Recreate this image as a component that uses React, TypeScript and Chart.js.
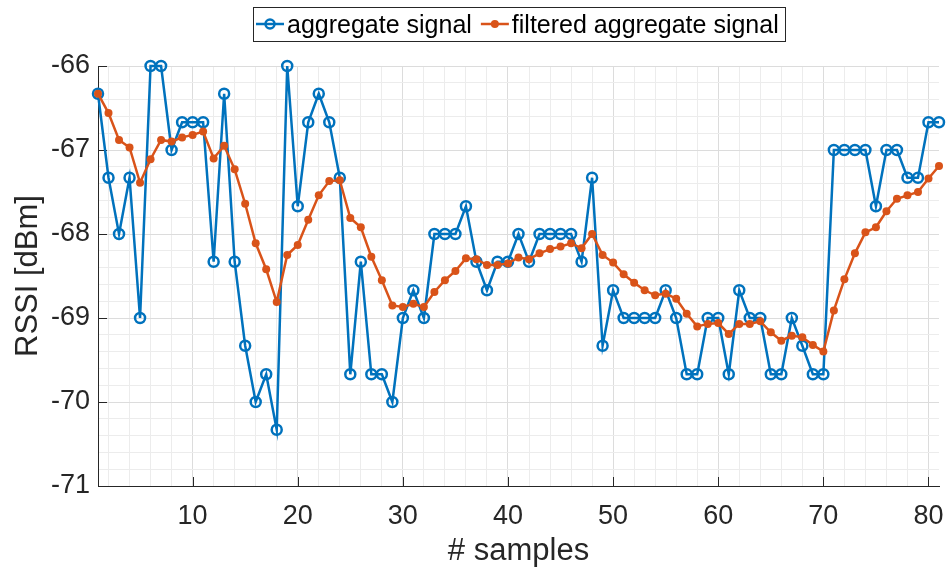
import React, { useEffect, useRef } from 'react';
import { Chart, registerables } from 'chart.js';

Chart.register(...registerables);

const FONT = '"Liberation Sans", Arial, Helvetica, sans-serif';
const BLUE = '#0072BD';
const ORANGE = '#D95319';
const AXIS = '#262626';

// RSSI of the aggregate signal, samples 1..81
const aggregateSignal = [
  -66.33, -67.33, -68, -67.33, -69, -66, -66, -67, -66.67, -66.67,
  -66.67, -68.33, -66.33, -68.33, -69.33, -70, -69.67, -70.33, -66, -67.67,
  -66.67, -66.33, -66.67, -67.33, -69.67, -68.33, -69.67, -69.67, -70, -69,
  -68.67, -69, -68, -68, -68, -67.67, -68.33, -68.67, -68.33, -68.33,
  -68, -68.33, -68, -68, -68, -68, -68.33, -67.33, -69.33, -68.67,
  -69, -69, -69, -69, -68.67, -69, -69.67, -69.67, -69, -69,
  -69.67, -68.67, -69, -69, -69.67, -69.67, -69, -69.33, -69.67, -69.67,
  -67, -67, -67, -67, -67.67, -67, -67, -67.33, -67.33, -66.67, -66.67,
];

// RSSI of the filtered aggregate signal, samples 1..81
const filteredSignal = [
  -66.33, -66.56, -66.88, -66.97, -67.39, -67.11, -66.88, -66.9, -66.85, -66.82,
  -66.78, -67.1, -66.95, -67.23, -67.64, -68.11, -68.42, -68.81, -68.25, -68.13,
  -67.83, -67.54, -67.37, -67.36, -67.81, -67.92, -68.27, -68.55, -68.85, -68.87,
  -68.83, -68.87, -68.69, -68.55, -68.44, -68.29, -68.3, -68.37, -68.37, -68.35,
  -68.28, -68.3, -68.23, -68.18, -68.15, -68.11, -68.17, -68.0, -68.25, -68.34,
  -68.48, -68.58, -68.67, -68.73, -68.71, -68.77, -68.95, -69.1, -69.07, -69.06,
  -69.19, -69.07, -69.07, -69.04, -69.17, -69.27, -69.21, -69.23, -69.32, -69.4,
  -68.91, -68.54, -68.23, -67.98, -67.92, -67.73, -67.58, -67.54, -67.5, -67.34, -67.19,
];

const seriesLabels = ['aggregate signal', 'filtered aggregate signal'];
const xMajorTicks = [10, 20, 30, 40, 50, 60, 70, 80];
const yMajorTicks = [-71, -70, -69, -68, -67, -66];
const xMinorStep = 2;
const yMinorStep = 0.2;
const X_MIN = 1;
const X_MAX = 81;
const Y_MIN = -71;
const Y_MAX = -66;

const isMajorX = (v: number) => xMajorTicks.some((m) => Math.abs(m - v) < 1e-6);
const isMajorY = (v: number) => yMajorTicks.some((m) => Math.abs(m - v) < 1e-6);

const axisDecor = {
  id: 'axisDecor',
  beforeDatasetsDraw(chart: any) {
    const { ctx, chartArea, scales } = chart;
    const x = scales.x;
    const y = scales.y;
    ctx.save();
    ctx.strokeStyle = AXIS;
    ctx.lineWidth = 1;
    ctx.beginPath();
    xMajorTicks.forEach((v) => {
      const px = Math.round(x.getPixelForValue(v)) + 0.5;
      ctx.moveTo(px, chartArea.bottom);
      ctx.lineTo(px, chartArea.bottom - 9);
    });
    yMajorTicks.forEach((v) => {
      const py = Math.round(y.getPixelForValue(v)) + 0.5;
      ctx.moveTo(chartArea.left, py);
      ctx.lineTo(chartArea.left + 9, py);
    });
    ctx.stroke();
    ctx.restore();
  },
  afterDraw(chart: any) {
    const { ctx, chartArea } = chart;
    ctx.save();
    ctx.font = `25px ${FONT}`;
    const w1 = ctx.measureText(seriesLabels[0]).width;
    const w2 = ctx.measureText(seriesLabels[1]).width;
    const boxW = 80 + w1 + w2;
    const cx = (chartArea.left + chartArea.right) / 2;
    const left = Math.round(cx - boxW / 2);
    const top = 7;
    const h = 34;
    ctx.fillStyle = '#ffffff';
    ctx.fillRect(left, top, boxW, h);
    ctx.strokeStyle = AXIS;
    ctx.lineWidth = 1;
    ctx.strokeRect(left + 0.5, top + 0.5, Math.round(boxW), h);
    const ly = 24;
    const drawItem = (x0: number, color: string, filled: boolean, text: string) => {
      ctx.strokeStyle = color;
      ctx.lineWidth = 2.5;
      ctx.beginPath();
      ctx.moveTo(x0, ly);
      ctx.lineTo(x0 + 28, ly);
      ctx.stroke();
      ctx.beginPath();
      if (filled) {
        ctx.fillStyle = color;
        ctx.arc(x0 + 14, ly, 4, 0, Math.PI * 2);
        ctx.fill();
      } else {
        ctx.arc(x0 + 14, ly, 4.5, 0, Math.PI * 2);
        ctx.stroke();
      }
      ctx.fillStyle = '#000000';
      ctx.textBaseline = 'alphabetic';
      ctx.textAlign = 'left';
      ctx.fillText(text, x0 + 31, 33);
    };
    const s1 = left + 3;
    drawItem(s1, BLUE, false, seriesLabels[0]);
    const s2 = s1 + 31 + w1 + 9;
    drawItem(s2, ORANGE, true, seriesLabels[1]);
    ctx.restore();
  },
};

export default function App() {
  const canvasRef = useRef<HTMLCanvasElement | null>(null);

  useEffect(() => {
    const canvas = canvasRef.current;
    if (!canvas) return;
    const toPoints = (arr: number[]) => arr.map((v, i) => ({ x: X_MIN + i, y: v }));
    const chart = new Chart(canvas, {
      type: 'line',
      data: {
        datasets: [
          {
            label: seriesLabels[0],
            data: toPoints(aggregateSignal),
            borderColor: BLUE,
            borderWidth: 2.5,
            pointStyle: 'circle',
            pointRadius: 5,
            pointBorderWidth: 2.5,
            pointBorderColor: BLUE,
            pointBackgroundColor: 'rgba(0,0,0,0)',
            tension: 0,
            fill: false,
            clip: false,
            order: 1,
          },
          {
            label: seriesLabels[1],
            data: toPoints(filteredSignal),
            borderColor: ORANGE,
            borderWidth: 2.5,
            pointStyle: 'circle',
            pointRadius: 4,
            pointBorderWidth: 0,
            pointBackgroundColor: ORANGE,
            tension: 0,
            fill: false,
            clip: false,
            order: 0,
          },
        ],
      },
      options: {
        animation: false,
        responsive: false,
        maintainAspectRatio: false,
        devicePixelRatio: 1,
        layout: { padding: { left: 0, top: 66, right: 13, bottom: 0 } },
        plugins: {
          legend: { display: false },
          tooltip: { enabled: false },
        },
        scales: {
          x: {
            type: 'linear',
            min: X_MIN,
            max: X_MAX,
            afterBuildTicks: (scale: any) => {
              const t: any[] = [];
              for (let v = X_MIN + 1; v <= X_MAX - 1 + 1e-9; v += xMinorStep) t.push({ value: v });
              scale.ticks = t;
            },
            afterFit: (scale: any) => {
              scale.height = 84;
              scale.paddingLeft = 0;
              scale.paddingRight = 0;
            },
            ticks: {
              autoSkip: false,
              maxRotation: 0,
              padding: 14,
              color: AXIS,
              font: { family: FONT, size: 27 },
              callback: (v: any) => (isMajorX(Number(v)) ? String(v) : ''),
            },
            grid: {
              drawTicks: false,
              color: (c: any) => (c.tick && isMajorX(c.tick.value) ? '#dcdcdc' : '#ececec'),
              lineWidth: 1,
            },
            border: { display: true, color: AXIS, width: 1 },
            title: {
              display: true,
              text: '# samples',
              color: AXIS,
              font: { family: FONT, size: 31 },
              padding: { top: 0, bottom: 0 },
            },
          },
          y: {
            type: 'linear',
            min: Y_MIN,
            max: Y_MAX,
            afterBuildTicks: (scale: any) => {
              const t: any[] = [];
              const n = Math.round((Y_MAX - Y_MIN) / yMinorStep);
              for (let i = 0; i <= n; i++) t.push({ value: Math.round((Y_MIN + i * yMinorStep) * 10) / 10 });
              scale.ticks = t;
            },
            afterFit: (scale: any) => {
              scale.width = 98;
              scale.paddingTop = 0;
              scale.paddingBottom = 0;
            },
            ticks: {
              autoSkip: false,
              padding: 8,
              color: AXIS,
              font: { family: FONT, size: 27 },
              callback: (v: any) => (isMajorY(Number(v)) ? String(Math.round(Number(v))) : ''),
            },
            grid: {
              drawTicks: false,
              color: (c: any) => (c.tick && isMajorY(c.tick.value) ? '#dcdcdc' : '#ececec'),
              lineWidth: 1,
            },
            border: { display: true, color: AXIS, width: 1 },
            title: {
              display: true,
              text: 'RSSI [dBm]',
              color: AXIS,
              font: { family: FONT, size: 31 },
              padding: { top: 10, bottom: 0 },
            },
          },
        },
      },
      plugins: [axisDecor],
    });
    return () => chart.destroy();
  }, []);

  return (
    <div style={{ position: 'fixed', left: 0, top: 0, width: 952, height: 570, background: '#ffffff' }}>
      <canvas ref={canvasRef} width={952} height={570} style={{ width: 952, height: 570, display: 'block' }} />
    </div>
  );
}
